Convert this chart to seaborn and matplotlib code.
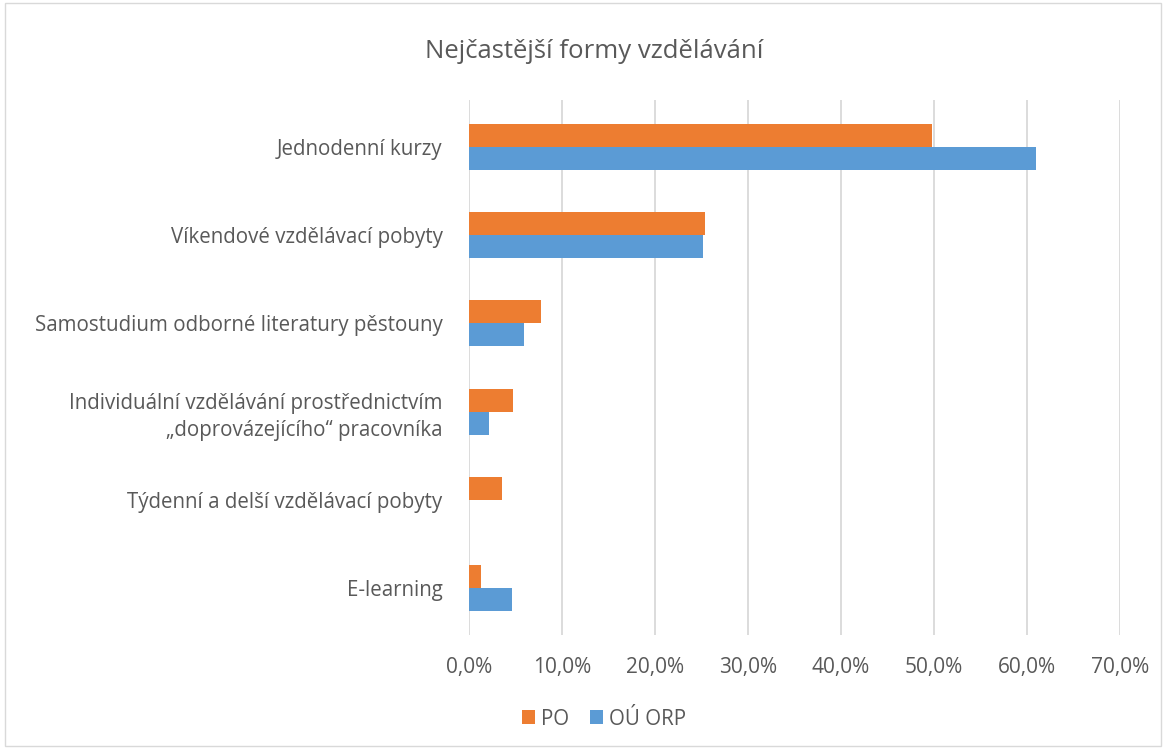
import pandas as pd
import seaborn as sns
import matplotlib.pyplot as plt
from matplotlib.patches import Rectangle
from matplotlib.ticker import FuncFormatter

# data (percent)
categories = [
    'Jednodenní kurzy',
    'Víkendové vzdělávací pobyty',
    'Samostudium odborné literatury pěstouny',
    'Individuální vzdělávání prostřednictvím\n„doprovázejícího“ pracovníka',
    'Týdenní a delší vzdělávací pobyty',
    'E-learning',
]
po = [49.8, 25.4, 7.7, 4.7, 3.5, 1.3]
ou_orp = [61.0, 25.2, 5.9, 2.2, 0.0, 4.6]
series = ['PO', 'OÚ ORP']
colors = ['#ED7D31', '#5B9BD5']

df = pd.DataFrame({
    'kategorie': categories * 2,
    'hodnota': po + ou_orp,
    'skupina': [series[0]] * len(categories) + [series[1]] * len(categories),
})

sns.set_style('white')
plt.rcParams['font.family'] = ['Open Sans', 'DejaVu Sans']
text_color = '#595959'

fig = plt.figure(figsize=(11.66, 7.49), dpi=100)
ax = fig.add_axes([0.4022, 0.1522, 0.5583, 0.7143])

sns.barplot(data=df, y='kategorie', x='hodnota', hue='skupina', orient='h',
            palette=colors, width=0.52, ax=ax, saturation=1, linewidth=0)

ax.set_xlim(0, 70)
ax.set_ylim(5.53, -0.53)
ax.set_xticks(range(0, 71, 10))
ax.xaxis.set_major_formatter(FuncFormatter(lambda v, p: f'{v:.1f}%'.replace('.', ',')))
ax.grid(axis='x', color='#D9D9D9', linewidth=1.3)
ax.set_axisbelow(True)
for s in ax.spines.values():
    s.set_visible(False)
ax.tick_params(axis='y', length=0, labelsize=14.8, colors=text_color, pad=19)
ax.tick_params(axis='x', length=0, labelsize=15, colors=text_color, pad=16)
for lbl in ax.get_yticklabels():
    lbl.set_horizontalalignment('right')
    lbl.set_linespacing(1.35)
ax.set_xlabel('')
ax.set_ylabel('')

fig.suptitle('Nejčastější formy vzdělávání', x=0.51, y=0.948, fontsize=18.5,
             color=text_color)

handles, labels = ax.get_legend_handles_labels()
ax.legend_.remove()
fig.legend(handles, labels, loc='center', bbox_to_anchor=(0.518, 0.04), ncol=2,
           frameon=False, fontsize=14.8, labelcolor=text_color, handlelength=0.65,
           handleheight=0.65, handletextpad=0.3, columnspacing=1.0)

fig.patches.append(Rectangle((0.004, 0.004), 0.992, 0.992, transform=fig.transFigure,
                             fill=False, edgecolor='#D9D9D9', linewidth=1))

fig.savefig('out.png', dpi=100)
